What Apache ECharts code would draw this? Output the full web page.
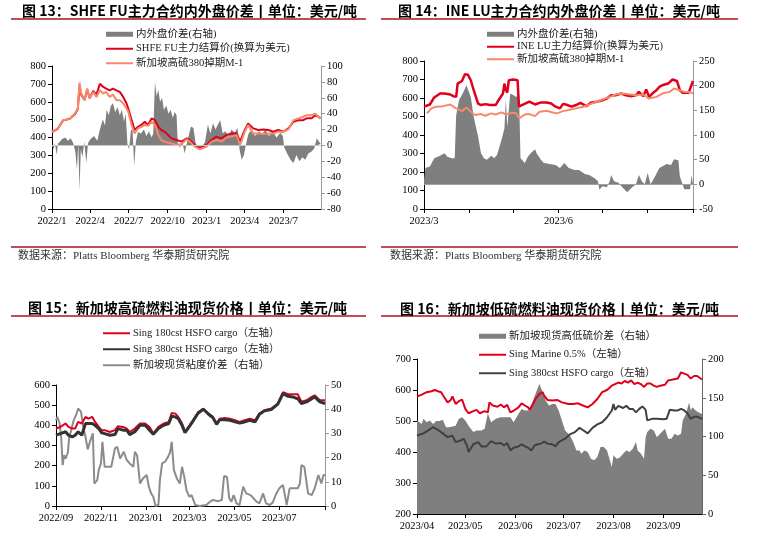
<!DOCTYPE html>
<html><head><meta charset="utf-8">
<script src="https://cdn.jsdelivr.net/npm/echarts@6/dist/echarts.min.js"></script>
<style>html,body{margin:0;padding:0;background:#fff}#c{width:783px;height:536px}</style>
</head><body><div id="c"></div>
<script>
// ---------- Panel 1: SHFE FU ----------
const p1XLabels = ['2022/1','2022/4','2022/7','2022/10','2023/1','2023/4','2023/7'];
const p1LineDates = ['2022-01-01','2022-01-15','2022-01-27','2022-02-04','2022-02-12','2022-02-24','2022-03-03','2022-03-07','2022-03-11','2022-03-19','2022-03-25','2022-03-31','2022-04-08','2022-04-16','2022-04-24','2022-05-02','2022-05-09','2022-05-17','2022-05-25','2022-06-02','2022-06-10','2022-06-18','2022-06-26','2022-06-30','2022-07-08','2022-07-15','2022-07-23','2022-07-31','2022-08-08','2022-08-16','2022-08-24','2022-09-01','2022-09-09','2022-09-16','2022-09-24','2022-10-02','2022-10-10','2022-10-22','2022-11-03','2022-11-15','2022-11-22','2022-12-04','2022-12-16','2023-01-01','2023-01-13','2023-01-24','2023-02-05','2023-02-17','2023-03-01','2023-03-13','2023-03-21','2023-04-01','2023-04-09','2023-04-21','2023-05-03','2023-05-15','2023-05-27','2023-06-07','2023-06-19','2023-07-01','2023-07-13','2023-07-25','2023-08-06','2023-08-17','2023-08-25','2023-09-06','2023-09-14','2023-09-22','2023-09-27'];
const p1Shfe = [430,450,495,500,505,530,560,690,640,610,670,620,660,640,701,683,674,664,674,664,655,627,590,562,497,442,460,470,488,470,507,497,460,442,432,414,395,386,377,395,386,358,340,358,386,405,395,414,423,423,377,442,479,451,442,445,442,432,442,432,451,488,497,497,507,507,525,516,507];
const p1Sing = [432,451,497,500,505,534,562,707,646,609,674,618,655,627,664,646,655,627,640,609,609,590,562,544,470,423,451,460,470,465,488,470,414,386,377,371,367,358,364,390,377,349,334,349,377,386,377,400,405,414,358,432,470,423,423,419,423,423,432,432,445,497,507,516,525,525,534,516,507];
const p1GapDates = ['2022-01-01','2022-01-05','2022-01-08','2022-01-12','2022-01-15','2022-01-20','2022-01-25','2022-02-01','2022-02-08','2022-02-14','2022-02-20','2022-02-25','2022-03-01','2022-03-04','2022-03-07','2022-03-10','2022-03-14','2022-03-18','2022-03-23','2022-03-27','2022-04-02','2022-04-10','2022-04-18','2022-04-24','2022-05-01','2022-05-06','2022-05-10','2022-05-15','2022-05-20','2022-05-25','2022-05-30','2022-06-05','2022-06-10','2022-06-15','2022-06-20','2022-06-24','2022-06-28','2022-07-02','2022-07-06','2022-07-10','2022-07-14','2022-07-18','2022-07-23','2022-07-30','2022-08-06','2022-08-12','2022-08-18','2022-08-24','2022-08-28','2022-09-01','2022-09-05','2022-09-09','2022-09-13','2022-09-18','2022-09-22','2022-09-28','2022-10-03','2022-10-08','2022-10-13','2022-10-18','2022-10-22','2022-10-25','2022-10-30','2022-11-05','2022-11-10','2022-11-15','2022-11-19','2022-11-25','2022-12-01','2022-12-06','2022-12-12','2022-12-20','2022-12-28','2023-01-04','2023-01-10','2023-01-16','2023-01-22','2023-02-02','2023-02-08','2023-02-14','2023-02-22','2023-03-01','2023-03-08','2023-03-15','2023-03-20','2023-03-25','2023-03-30','2023-04-05','2023-04-10','2023-04-18','2023-04-25','2023-05-05','2023-05-12','2023-05-20','2023-05-28','2023-06-06','2023-06-15','2023-06-24','2023-06-30','2023-07-03','2023-07-10','2023-07-18','2023-07-25','2023-08-01','2023-08-08','2023-08-15','2023-08-22','2023-08-29','2023-09-05','2023-09-12','2023-09-18','2023-09-23','2023-09-27'];
const p1Gap = [0,-5,3,-12,2,5,8,10,6,9,3,-8,-30,2,-57,-5,-15,5,-22,3,8,12,6,20,33,25,45,38,50,53,42,48,38,45,30,40,2,-5,18,22,-26,5,17,15,20,12,18,10,15,80,62,70,55,60,45,50,40,45,35,42,38,2,-3,4,-10,2,0,24,22,3,-4,-2,4,26,15,28,20,32,15,18,12,20,16,22,-6,-18,-12,4,15,20,12,18,14,20,12,18,10,16,12,-2,-10,-18,-22,-12,-20,-15,-18,-10,-8,-4,9,5,2];

// ---------- Panel 2: INE LU ----------
const p2TickMonths = ['2023/3','2023/4','2023/5','2023/6','2023/7','2023/8','2023/9'];
const p2XLabels = ['2023/3','2023/6'];
const p2LuDates = ['2023-03-01','2023-03-05','2023-03-08','2023-03-12','2023-03-15','2023-03-19','2023-03-21','2023-03-23','2023-03-24','2023-03-27','2023-03-29','2023-03-31','2023-04-02','2023-04-04','2023-04-07','2023-04-09','2023-04-12','2023-04-15','2023-04-17','2023-04-19','2023-04-21','2023-04-24','2023-04-25','2023-04-26','2023-04-27','2023-04-28','2023-05-01','2023-05-04','2023-05-05','2023-05-07','2023-05-12','2023-05-16','2023-05-20','2023-05-24','2023-05-27','2023-05-30','2023-06-02','2023-06-04','2023-06-06','2023-06-10','2023-06-13','2023-06-16','2023-06-20','2023-06-23','2023-06-27','2023-07-01','2023-07-04','2023-07-07','2023-07-10','2023-07-14','2023-07-17','2023-07-21','2023-07-24','2023-07-26','2023-07-29','2023-07-31','2023-08-02','2023-08-05','2023-08-07','2023-08-09','2023-08-11','2023-08-15','2023-08-18','2023-08-21','2023-08-23','2023-08-25','2023-08-29','2023-08-30','2023-09-01'];
const p2Lu = [553,565,603,624,624,619,610,606,678,692,728,726,696,642,570,562,567,562,562,562,588,624,678,642,630,696,700,696,553,562,580,565,576,576,570,553,544,567,565,553,562,574,556,574,580,588,597,615,615,624,615,610,615,633,610,646,606,630,642,660,669,678,700,692,642,628,628,630,692];
const p2SingDates = ['2023-03-03','2023-03-06','2023-03-09','2023-03-14','2023-03-19','2023-03-23','2023-03-27','2023-03-30','2023-04-02','2023-04-05','2023-04-09','2023-04-12','2023-04-16','2023-04-19','2023-04-23','2023-04-26','2023-04-30','2023-05-03','2023-05-05','2023-05-09','2023-05-12','2023-05-16','2023-05-19','2023-05-24','2023-05-28','2023-05-31','2023-06-04','2023-06-08','2023-06-13','2023-06-18','2023-06-22','2023-06-27','2023-07-01','2023-07-06','2023-07-10','2023-07-15','2023-07-20','2023-07-24','2023-07-29','2023-08-02','2023-08-07','2023-08-11','2023-08-16','2023-08-19','2023-08-23','2023-08-26','2023-08-30','2023-09-01'];
const p2Sing = [517,544,553,556,565,544,529,549,526,508,513,504,517,511,522,511,520,517,490,511,513,502,526,531,522,517,529,535,544,553,565,580,592,606,619,624,619,615,619,597,606,624,633,651,642,633,633,624];
const p2GapDates = ['2023-03-01','2023-03-02','2023-03-05','2023-03-08','2023-03-12','2023-03-15','2023-03-16','2023-03-17','2023-03-20','2023-03-22','2023-03-23','2023-03-25','2023-03-28','2023-03-30','2023-03-31','2023-04-02','2023-04-04','2023-04-07','2023-04-09','2023-04-11','2023-04-13','2023-04-16','2023-04-18','2023-04-20','2023-04-23','2023-04-25','2023-04-26','2023-04-27','2023-04-29','2023-05-01','2023-05-03','2023-05-05','2023-05-06','2023-05-09','2023-05-11','2023-05-13','2023-05-16','2023-05-17','2023-05-20','2023-05-22','2023-05-26','2023-05-30','2023-06-02','2023-06-05','2023-06-08','2023-06-12','2023-06-15','2023-06-19','2023-06-22','2023-06-26','2023-06-28','2023-06-29','2023-07-01','2023-07-04','2023-07-06','2023-07-07','2023-07-09','2023-07-12','2023-07-14','2023-07-18','2023-07-21','2023-07-24','2023-07-26','2023-07-28','2023-07-30','2023-08-01','2023-08-03','2023-08-06','2023-08-09','2023-08-14','2023-08-17','2023-08-19','2023-08-22','2023-08-23','2023-08-25','2023-08-26','2023-08-30','2023-08-31','2023-09-01'];
const p2Gap = [9,33,36,53,58,63,66,56,53,53,140,171,187,201,204,177,137,97,63,53,50,58,53,60,90,113,171,116,184,181,177,184,53,43,56,63,71,63,50,43,41,39,33,43,33,29,29,21,19,12,6,-11,-4,-6,6,19,6,3,-4,-16,-7,0,19,6,0,23,0,16,33,41,39,51,49,16,-1,-10,-10,19,20];

// ---------- Panel 3: Singapore HSFO ----------
const p3TickLabels = ['2022/09','2022/11','2023/01','2023/03','2023/05','2023/07','2023/09'];
const p3XLabels = ['2022/09','2022/11','2023/01','2023/03','2023/05','2023/07'];
const p3LineDates = ['2022-09-01','2022-09-07','2022-09-14','2022-09-18','2022-09-23','2022-09-27','2022-10-01','2022-10-06','2022-10-11','2022-10-15','2022-10-20','2022-10-24','2022-10-29','2022-11-02','2022-11-06','2022-11-13','2022-11-20','2022-11-24','2022-12-01','2022-12-06','2022-12-10','2022-12-17','2022-12-24','2022-12-31','2023-01-06','2023-01-11','2023-01-18','2023-01-25','2023-02-01','2023-02-05','2023-02-10','2023-02-14','2023-02-19','2023-02-23','2023-03-02','2023-03-06','2023-03-13','2023-03-20','2023-03-27','2023-04-02','2023-04-07','2023-04-11','2023-04-18','2023-04-25','2023-05-02','2023-05-08','2023-05-15','2023-05-22','2023-05-29','2023-06-04','2023-06-11','2023-06-20','2023-06-29','2023-07-06','2023-07-13','2023-07-19','2023-07-26','2023-07-31','2023-08-07','2023-08-14','2023-08-18','2023-08-25','2023-09-01'];
const p3Hs180 = [384,392,409,392,384,384,417,409,442,433,442,417,392,376,376,367,376,396,392,384,367,384,409,409,392,359,392,409,417,461,458,442,409,367,404,425,466,483,458,442,409,433,437,433,425,417,425,433,425,458,475,483,508,565,554,554,554,517,524,541,549,524,524];
const p3Hs380 = [351,359,368,351,343,351,368,351,409,409,409,400,384,363,359,351,354,384,376,376,354,368,400,400,376,356,384,400,409,445,442,433,400,364,400,422,461,480,455,437,405,428,428,425,417,412,417,425,417,455,472,478,505,557,544,541,532,508,516,532,541,516,508];
const p3SpreadDates = ['2022-09-01','2022-09-03','2022-09-06','2022-09-08','2022-09-10','2022-09-12','2022-09-14','2022-09-17','2022-09-19','2022-09-21','2022-09-25','2022-09-29','2022-10-01','2022-10-05','2022-10-08','2022-10-11','2022-10-14','2022-10-17','2022-10-21','2022-10-23','2022-10-27','2022-10-29','2022-11-01','2022-11-03','2022-11-06','2022-11-11','2022-11-15','2022-11-20','2022-11-23','2022-11-27','2022-12-02','2022-12-06','2022-12-10','2022-12-15','2022-12-17','2022-12-20','2022-12-24','2022-12-28','2023-01-02','2023-01-05','2023-01-08','2023-01-11','2023-01-14','2023-01-18','2023-01-20','2023-01-23','2023-01-27','2023-01-31','2023-02-03','2023-02-05','2023-02-08','2023-02-12','2023-02-16','2023-02-19','2023-02-22','2023-02-25','2023-03-01','2023-03-04','2023-03-09','2023-03-15','2023-03-24','2023-03-29','2023-04-02','2023-04-09','2023-04-14','2023-04-17','2023-04-21','2023-04-24','2023-04-27','2023-04-30','2023-05-04','2023-05-08','2023-05-13','2023-05-17','2023-05-23','2023-05-27','2023-05-31','2023-06-04','2023-06-09','2023-06-13','2023-06-18','2023-06-22','2023-06-27','2023-07-01','2023-07-06','2023-07-09','2023-07-11','2023-07-15','2023-07-19','2023-07-26','2023-07-29','2023-07-31','2023-08-04','2023-08-09','2023-08-14','2023-08-18','2023-08-23','2023-08-27','2023-08-30','2023-09-01'];
const p3Spread = [35.4,36.8,34,28.6,16.9,21,19.6,22,28.6,30.6,35.4,38.2,40.3,38.9,32.7,28.6,23.4,26.5,30,9.3,10.7,14.8,17.6,26.5,16.2,16.2,16.2,23.8,24.5,19.6,22.4,19,17.6,16.2,22.4,21,9.3,11.4,12.8,8,5.2,3.8,0,0.4,10.7,17.6,18.3,20.3,22.4,26.5,14.8,11.4,9.3,16.2,12.1,6.6,3.8,4.5,0.4,0,0.4,1.8,2.5,2,2.5,12.4,12,3.2,1.8,4.5,1.1,0.4,8,5.2,4.5,3.2,1.8,1.1,5.2,1.1,0.4,1.4,5.2,7.3,8.7,3.8,0.4,7.3,7.3,7.3,9.3,16.9,16.2,5.2,4.5,7.3,12.8,9.3,12.8,12.8];

// ---------- Panel 4: Singapore LSFO ----------
const p4XLabels = ['2023/04','2023/05','2023/06','2023/07','2023/08','2023/09'];
const p4VlsDates = ['2023-04-01','2023-04-04','2023-04-07','2023-04-10','2023-04-12','2023-04-14','2023-04-16','2023-04-18','2023-04-20','2023-04-22','2023-04-23','2023-04-25','2023-04-27','2023-04-29','2023-05-01','2023-05-03','2023-05-06','2023-05-08','2023-05-10','2023-05-13','2023-05-15','2023-05-16','2023-05-18','2023-05-21','2023-05-23','2023-05-25','2023-05-27','2023-05-29','2023-05-31','2023-06-03','2023-06-05','2023-06-07','2023-06-09','2023-06-10','2023-06-12','2023-06-14','2023-06-16','2023-06-18','2023-06-19','2023-06-21','2023-06-24','2023-06-27','2023-06-30','2023-07-04','2023-07-07','2023-07-10','2023-07-13','2023-07-16','2023-07-19','2023-07-22','2023-07-25','2023-07-28','2023-07-31','2023-08-02','2023-08-04','2023-08-06','2023-08-08','2023-08-10','2023-08-12','2023-08-14','2023-08-16','2023-08-18','2023-08-20','2023-08-22','2023-08-24','2023-08-26','2023-08-28','2023-08-30','2023-09-02','2023-09-04','2023-09-07','2023-09-10','2023-09-12','2023-09-14','2023-09-16','2023-09-18','2023-09-20','2023-09-22','2023-09-25'];
const p4Vls = [579,585,593,596,600,596,593,576,560,568,579,555,564,569,539,525,532,536,525,532,528,560,550,546,553,544,552,528,533,544,557,550,544,536,555,574,587,593,582,568,566,568,560,555,555,557,550,544,555,571,593,600,614,619,624,621,629,624,631,619,624,619,610,621,621,614,610,614,617,631,634,637,657,653,649,637,645,645,634];
const p4HsDates = ['2023-04-01','2023-04-05','2023-04-08','2023-04-11','2023-04-14','2023-04-17','2023-04-20','2023-04-23','2023-04-25','2023-04-28','2023-04-30','2023-05-02','2023-05-03','2023-05-06','2023-05-09','2023-05-11','2023-05-14','2023-05-17','2023-05-20','2023-05-23','2023-05-25','2023-05-27','2023-05-29','2023-05-31','2023-06-03','2023-06-05','2023-06-07','2023-06-09','2023-06-11','2023-06-13','2023-06-15','2023-06-17','2023-06-19','2023-06-21','2023-06-24','2023-06-26','2023-06-28','2023-07-02','2023-07-05','2023-07-08','2023-07-11','2023-07-13','2023-07-16','2023-07-19','2023-07-22','2023-07-25','2023-07-28','2023-07-31','2023-08-01','2023-08-02','2023-08-04','2023-08-07','2023-08-09','2023-08-11','2023-08-13','2023-08-15','2023-08-17','2023-08-19','2023-08-21','2023-08-22','2023-08-25','2023-08-28','2023-09-01','2023-09-03','2023-09-05','2023-09-08','2023-09-10','2023-09-12','2023-09-14','2023-09-16','2023-09-18','2023-09-20','2023-09-22','2023-09-25'];
const p4Hs = [453,460,470,480,471,460,448,453,432,437,443,421,400,425,432,418,418,435,427,429,421,429,405,414,418,425,418,414,405,421,425,427,434,427,425,418,432,443,457,464,478,471,460,478,489,496,512,534,555,536,549,542,549,539,539,528,539,547,536,502,507,507,506,507,536,534,534,539,534,524,507,514,514,507];
const p4SpreadDates = ['2023-04-01','2023-04-02','2023-04-04','2023-04-05','2023-04-07','2023-04-09','2023-04-11','2023-04-13','2023-04-15','2023-04-17','2023-04-19','2023-04-21','2023-04-23','2023-04-25','2023-04-27','2023-04-29','2023-05-01','2023-05-03','2023-05-06','2023-05-08','2023-05-11','2023-05-13','2023-05-15','2023-05-17','2023-05-20','2023-05-23','2023-05-26','2023-05-29','2023-05-31','2023-06-03','2023-06-05','2023-06-07','2023-06-10','2023-06-12','2023-06-14','2023-06-16','2023-06-17','2023-06-18','2023-06-20','2023-06-22','2023-06-24','2023-06-26','2023-06-28','2023-06-30','2023-07-02','2023-07-05','2023-07-07','2023-07-09','2023-07-11','2023-07-12','2023-07-14','2023-07-16','2023-07-18','2023-07-20','2023-07-22','2023-07-24','2023-07-26','2023-07-28','2023-07-31','2023-08-01','2023-08-03','2023-08-05','2023-08-07','2023-08-09','2023-08-11','2023-08-13','2023-08-15','2023-08-16','2023-08-18','2023-08-20','2023-08-21','2023-08-22','2023-08-24','2023-08-26','2023-08-28','2023-08-30','2023-09-02','2023-09-04','2023-09-06','2023-09-08','2023-09-10','2023-09-12','2023-09-13','2023-09-15','2023-09-17','2023-09-18','2023-09-19','2023-09-21','2023-09-23','2023-09-25'];
const p4Spread = [120.6,122.8,116,123,118.5,120.6,116,120,120,121.5,112,112,113,114,123,125,120.6,114,105.7,107.8,107.8,110,130,118.5,123,125,125,125,118.5,129,135.6,133.5,134,146,157,167.7,165.6,157,146,140,142,142,133.5,120.6,107.8,101.4,92.8,82,82,77.9,82,80,71.4,69.3,73.6,86.4,86.4,82,60.7,75.7,71.4,73,77.9,82,80,84.3,92.8,82,78,71.4,99,105.7,110,107.8,99,103.5,110,97,97,103.5,101.4,103.5,120.6,129,144,133.5,137.7,133.5,131,129];

// ---------- helpers ----------
const SERIF = "'Liberation Serif','Times New Roman','Noto Sans CJK SC',serif";
const HEI = "'Noto Sans CJK SC','Noto Sans',sans-serif";
const RULE = '#c0504d';
const day = s => { const [y, m, d] = s.split('-').map(Number); return new Date(y, m - 1, d).getTime(); };
const zip = (ds, v) => ds.map((x, i) => [day(x), v[i]]);
const ts = s => { const [y, m] = s.split('/').map(Number); return new Date(y, m - 1, 1).getTime(); };
const fmtM = v => { const d = new Date(v); return d.getFullYear() + '/' + (d.getMonth() + 1); };
const fmtMM = v => { const d = new Date(v); const m = d.getMonth() + 1; return d.getFullYear() + '/' + (m < 10 ? '0' + m : m); };

function xAx(grid, min, max, ticks, labels, fmt) {
  return {
    type: 'value', gridIndex: grid, min: day(min), max: day(max), scale: true,
    axisLine: { onZero: false, lineStyle: { color: '#000', width: 1 } },
    axisTick: { show: true, customValues: ticks, length: 4, lineStyle: { color: '#000' } },
    axisLabel: { customValues: labels, formatter: fmt, color: '#000', fontFamily: SERIF, fontSize: 10.5, margin: 7 },
    splitLine: { show: false }
  };
}
function yAx(grid, pos, min, max, interval, lineColor) {
  return {
    type: 'value', gridIndex: grid, position: pos, min: min, max: max, interval: interval,
    axisLine: { show: true, onZero: false, lineStyle: { color: lineColor, width: 1 } },
    axisTick: { show: true, length: 4, lineStyle: { color: lineColor } },
    axisLabel: { color: '#000', fontFamily: SERIF, fontSize: 10.5, margin: 6 },
    splitLine: { show: false }
  };
}
function lineS(name, xi, yi, data, color, width, z) {
  return { name: name, type: 'line', xAxisIndex: xi, yAxisIndex: yi, data: data, symbol: 'none',
    color: color, lineStyle: { color: color, width: width }, itemStyle: { color: color }, z: z || 3 };
}
function areaS(name, xi, yi, data, color, zeroLine) {
  const s = { name: name, type: 'line', xAxisIndex: xi, yAxisIndex: yi, data: data, symbol: 'none',
    color: color, lineStyle: { width: 0, color: color }, itemStyle: { color: color },
    areaStyle: { color: color, opacity: 1 }, z: 1 };
  if (zeroLine) {
    s.markLine = { silent: true, symbol: 'none', label: { show: false },
      lineStyle: { color: zeroLine, width: 1, type: 'solid' }, data: [{ yAxis: 0 }] };
  }
  return s;
}
function legend(left, top, gap, items) {
  return { orient: 'vertical', left: left, top: top, padding: 0, itemWidth: 27, itemHeight: 5, itemGap: gap,
    selectedMode: false, textStyle: { fontFamily: SERIF, fontSize: 10.5, color: '#222', padding: [0, 0, 0, -2] },
    data: items };
}
const G = '#7f7f7f';
const n1a = '内外盘价差(右轴)', n1b = 'SHFE FU主力结算价(换算为美元)', n1c = '新加坡高硫380掉期M-1';
const n2b = 'INE LU主力结算价(换算为美元)';
const n3a = 'Sing 180cst HSFO cargo（左轴）', n3b = 'Sing 380cst HSFO cargo（左轴）', n3c = '新加坡现货粘度价差（右轴）';
const n4a = '新加坡现货高低硫价差（右轴）', n4b = 'Sing Marine 0.5%（左轴）';
const gapIcon = n => ({ name: n, icon: 'rect', itemStyle: { color: G, opacity: 1 }, lineStyle: { color: G, width: 5 } });
const lineIcon = n => ({ name: n, itemStyle: { opacity: 0 } });

const titleStyle = { fontFamily: HEI, fontSize: 14, fontWeight: 'bold', color: '#000' };
const srcStyle = { fontFamily: SERIF, fontSize: 11, fontWeight: 'normal', color: '#333' };

const option = {
  animation: false,
  backgroundColor: '#fff',
  title: [
    { text: '图 13：SHFE FU主力合约内外盘价差丨单位：美元/吨', left: 22, top: 4, padding: 0, textStyle: titleStyle },
    { text: '图 14：INE LU主力合约内外盘价差丨单位：美元/吨', left: 398, top: 4, padding: 0, textStyle: titleStyle },
    { text: '图 15：新加坡高硫燃料油现货价格丨单位：美元/吨', left: 28, top: 301, padding: 0, textStyle: titleStyle },
    { text: '图 16：新加坡低硫燃料油现货价格丨单位：美元/吨', left: 400, top: 302, padding: 0, textStyle: titleStyle },
    { text: '数据来源：Platts Bloomberg 华泰期货研究院', left: 18, top: 251, padding: 0, textStyle: srcStyle },
    { text: '数据来源：Platts Bloomberg 华泰期货研究院', left: 390, top: 251, padding: 0, textStyle: srcStyle }
  ],
  graphic: [
    { type: 'line', shape: { x1: 11, y1: 19, x2: 366, y2: 19 }, style: { stroke: RULE, lineWidth: 2 } },
    { type: 'line', shape: { x1: 381, y1: 19, x2: 738, y2: 19 }, style: { stroke: RULE, lineWidth: 2 } },
    { type: 'line', shape: { x1: 11, y1: 247, x2: 366, y2: 247 }, style: { stroke: RULE, lineWidth: 2 } },
    { type: 'line', shape: { x1: 381, y1: 247, x2: 738, y2: 247 }, style: { stroke: RULE, lineWidth: 2 } },
    { type: 'line', shape: { x1: 11, y1: 316, x2: 366, y2: 316 }, style: { stroke: RULE, lineWidth: 2 } },
    { type: 'line', shape: { x1: 381, y1: 316, x2: 738, y2: 316 }, style: { stroke: RULE, lineWidth: 2 } }
  ],
  legend: [
    legend(105, 29, 4, [gapIcon(n1a), lineIcon(n1b), lineIcon(n1c)]),
    legend(486, 29, 2, [gapIcon(n1a + ' '), lineIcon(n2b), lineIcon(n1c + ' ')]),
    legend(102, 328, 5.5, [lineIcon(n3a), lineIcon(n3b), lineIcon(n3c)]),
    legend(478, 331, 8, [gapIcon(n4a), lineIcon(n4b), lineIcon(n3b + ' ')])
  ],
  grid: [
    { left: 52, top: 66, width: 269, height: 143 },
    { left: 424, top: 61, width: 269, height: 148 },
    { left: 56, top: 385, width: 269, height: 121 },
    { left: 417, top: 359, width: 285, height: 155 }
  ],
  xAxis: [
    xAx(0, '2022-01-01', '2023-09-28', p1XLabels.map(ts), p1XLabels.map(ts), fmtM),
    xAx(1, '2023-03-01', '2023-09-01', p2TickMonths.map(ts), p2XLabels.map(ts), fmtM),
    xAx(2, '2022-09-01', '2023-09-01', p3TickLabels.map(ts), p3XLabels.map(ts), fmtMM),
    xAx(3, '2023-04-01', '2023-09-25', p4XLabels.map(ts), p4XLabels.map(ts), fmtMM)
  ],
  yAxis: [
    yAx(0, 'left', 0, 800, 100, '#000'),
    yAx(0, 'right', -80, 100, 20, '#999'),
    yAx(1, 'left', 0, 800, 100, '#000'),
    yAx(1, 'right', -50, 250, 50, '#999'),
    yAx(2, 'left', 0, 600, 100, '#000'),
    yAx(2, 'right', 0, 50, 10, '#999'),
    yAx(3, 'left', 200, 700, 100, '#000'),
    yAx(3, 'right', 0, 200, 50, '#666')
  ],
  series: [
    areaS(n1a, 0, 1, zip(p1GapDates, p1Gap), G, '#c8c8c8'),
    lineS(n1b, 0, 0, zip(p1LineDates, p1Shfe), '#e0001b', 2),
    lineS(n1c, 0, 0, zip(p1LineDates, p1Sing), '#f4896b', 2, 4),

    areaS(n1a + ' ', 1, 3, zip(p2GapDates, p2Gap), G, '#a0a0a0'),
    lineS(n2b, 1, 2, zip(p2LuDates, p2Lu), '#e0001b', 2.5),
    lineS(n1c + ' ', 1, 2, zip(p2SingDates, p2Sing), '#f4896b', 2, 4),

    lineS(n3a, 2, 4, zip(p3LineDates, p3Hs180), '#e0001b', 2),
    lineS(n3b, 2, 4, zip(p3LineDates, p3Hs380), '#333333', 3, 4),
    lineS(n3c, 2, 5, zip(p3SpreadDates, p3Spread), '#8c8c8c', 2, 2),

    areaS(n4a, 3, 7, zip(p4SpreadDates, p4Spread), G),
    lineS(n4b, 3, 6, zip(p4VlsDates, p4Vls), '#e0001b', 2),
    lineS(n3b + ' ', 3, 6, zip(p4HsDates, p4Hs), '#404040', 2, 4)
  ]
};
const chart = echarts.init(document.getElementById('c'), null, { renderer: 'canvas' });
chart.setOption(option);
</script></body></html>
